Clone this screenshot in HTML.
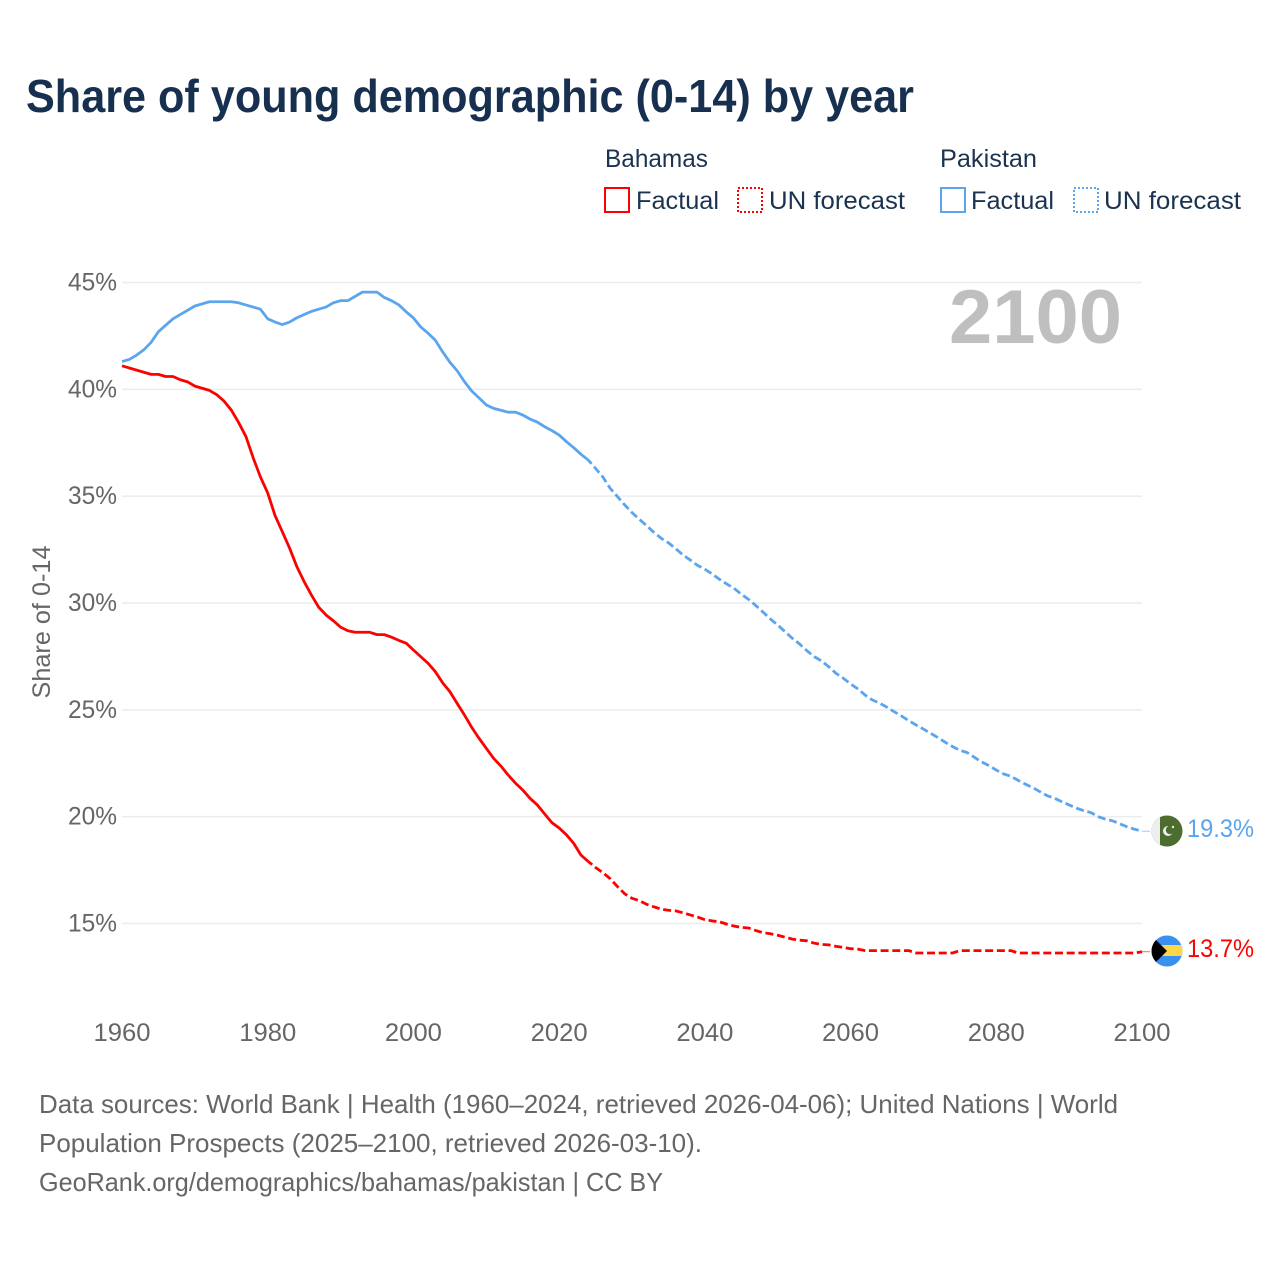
<!DOCTYPE html>
<html lang="en">
<head>
<meta charset="utf-8">
<title>Share of young demographic (0-14) by year</title>
<style>
html,body{margin:0;padding:0;background:#fff;width:1280px;height:1280px;overflow:hidden}
svg{display:block}
text{font-family:"Liberation Sans",sans-serif}
</style>
</head>
<body>
<svg id="chart" width="1280" height="1280" viewBox="0 0 1280 1280" xmlns="http://www.w3.org/2000/svg">
  <rect width="1280" height="1280" fill="#fff"/>
  <text x="26" y="112" font-size="46" font-weight="700" fill="#17304f" textLength="888" lengthAdjust="spacingAndGlyphs">Share of young demographic (0-14) by year</text>

  <g font-size="25" fill="#1b3350">
    <text x="605" y="167" textLength="103" lengthAdjust="spacingAndGlyphs">Bahamas</text>
    <text x="940" y="167" textLength="97" lengthAdjust="spacingAndGlyphs">Pakistan</text>
    <rect x="605" y="188" width="24" height="24" fill="none" stroke="#ff0000" stroke-width="2"/>
    <text x="636" y="209" textLength="83" lengthAdjust="spacingAndGlyphs">Factual</text>
    <rect x="738" y="188" width="24" height="24" fill="none" stroke="#ff0000" stroke-width="2" stroke-dasharray="2 2"/>
    <text x="769" y="209" textLength="136" lengthAdjust="spacingAndGlyphs">UN forecast</text>
    <rect x="941" y="188" width="24" height="24" fill="none" stroke="#5ba4ee" stroke-width="2"/>
    <text x="971" y="209" textLength="83" lengthAdjust="spacingAndGlyphs">Factual</text>
    <rect x="1074" y="188" width="24" height="24" fill="none" stroke="#5ba4ee" stroke-width="2" stroke-dasharray="2 2"/>
    <text x="1104" y="209" textLength="137" lengthAdjust="spacingAndGlyphs">UN forecast</text>
  </g>

  <g id="grid"></g>
  <g id="yticks"></g>
  <g id="xticks"></g>

  <text transform="translate(50,622) rotate(-90)" text-anchor="middle" font-size="25" fill="#666" textLength="153" lengthAdjust="spacingAndGlyphs">Share of 0-14</text>
  <text x="949" y="343" font-size="76" font-weight="700" fill="#bfbfbf" textLength="173" lengthAdjust="spacingAndGlyphs">2100</text>

  <g id="series"></g>

  <defs>
    <clipPath id="clip-pk"><circle cx="1167" cy="831" r="15.5"/></clipPath>
    <clipPath id="clip-bs"><circle cx="1167" cy="951" r="15.5"/></clipPath>
  </defs>
  <g clip-path="url(#clip-pk)">
    <rect x="1150" y="814" width="34" height="34" fill="#4c6d2d"/>
    <rect x="1150" y="814" width="10" height="34" fill="#eeeeee"/>
    <circle cx="1168" cy="831" r="5" fill="#eeeeee"/>
    <circle cx="1170" cy="830" r="4.2" fill="#4c6d2d"/>
    <circle cx="1173" cy="827" r="1.2" fill="#eeeeee"/>
  </g>
  <g clip-path="url(#clip-bs)">
    <rect x="1150" y="934" width="34" height="34" fill="#3a90ee"/>
    <rect x="1150" y="945" width="34" height="11" fill="#ffd64a"/>
    <polygon points="1150,934 1167,951 1150,968" fill="#000"/>
  </g>
  <text x="1187" y="837" font-size="25" fill="#5ba4ee" textLength="67" lengthAdjust="spacingAndGlyphs">19.3%</text>
  <text x="1187" y="957" font-size="25" fill="#ff0000" textLength="67" lengthAdjust="spacingAndGlyphs">13.7%</text>

  <g font-size="26" fill="#666">
    <text x="39" y="1113" textLength="1079" lengthAdjust="spacingAndGlyphs">Data sources: World Bank | Health (1960–2024, retrieved 2026-04-06); United Nations | World</text>
    <text x="39" y="1152" textLength="663" lengthAdjust="spacingAndGlyphs">Population Prospects (2025–2100, retrieved 2026-03-10).</text>
    <text x="39" y="1191" textLength="624" lengthAdjust="spacingAndGlyphs">GeoRank.org/demographics/bahamas/pakistan | CC BY</text>
  </g>
</svg>
<script>
const firstYear = 1960;
const lastFactualYear = 2024;
const xTickYears = [1960, 1980, 2000, 2020, 2040, 2060, 2080, 2100];
const yTickValues = [15, 20, 25, 30, 35, 40, 45];
const pakistanValues = [
  41.3,41.4,41.6,41.85,42.2,42.7,43.0,43.3,43.5,43.7,
  43.9,44.0,44.1,44.1,44.1,44.1,44.05,43.95,43.85,43.75,
  43.3,43.15,43.03,43.15,43.35,43.5,43.65,43.75,43.85,44.05,
  44.15,44.15,44.35,44.55,44.55,44.55,44.3,44.15,43.95,43.63,
  43.34,42.92,42.63,42.3,41.76,41.27,40.87,40.36,39.92,39.6,
  39.27,39.11,39.02,38.93,38.93,38.8,38.61,38.47,38.25,38.07,
  37.86,37.55,37.27,36.96,36.69,36.3,35.9,35.37,34.98,34.59,
  34.23,33.92,33.62,33.31,33.03,32.82,32.54,32.25,32.01,31.76,
  31.58,31.36,31.11,30.89,30.69,30.41,30.17,29.88,29.57,29.25,
  28.97,28.66,28.35,28.08,27.77,27.49,27.29,27.02,26.71,26.48,
  26.21,25.98,25.69,25.46,25.31,25.12,24.91,24.71,24.49,24.29,
  24.1,23.9,23.7,23.48,23.28,23.11,23.0,22.78,22.56,22.39,
  22.18,22.0,21.89,21.7,21.52,21.36,21.17,20.98,20.86,20.7,
  20.55,20.4,20.28,20.19,20.0,19.88,19.8,19.66,19.52,19.41,
  19.32
];
const bahamasValues = [
  41.1,41.0,40.9,40.8,40.7,40.7,40.6,40.6,40.45,40.35,
  40.15,40.05,39.95,39.75,39.45,39.03,38.45,37.8,36.8,35.9,
  35.15,34.1,33.34,32.57,31.7,31.0,30.37,29.8,29.44,29.17,
  28.87,28.7,28.63,28.63,28.63,28.52,28.52,28.4,28.25,28.12,
  27.8,27.49,27.18,26.79,26.27,25.85,25.3,24.76,24.18,23.67,
  23.2,22.73,22.37,21.95,21.57,21.25,20.86,20.55,20.13,19.72,
  19.47,19.15,18.75,18.2,17.9,17.62,17.38,17.1,16.73,16.39,
  16.18,16.07,15.9,15.78,15.67,15.62,15.59,15.5,15.4,15.3,
  15.18,15.12,15.08,14.97,14.88,14.82,14.79,14.67,14.57,14.52,
  14.45,14.36,14.27,14.22,14.19,14.08,14.02,14.0,13.93,13.88,
  13.82,13.8,13.73,13.73,13.73,13.73,13.73,13.73,13.73,13.62,
  13.62,13.62,13.62,13.62,13.62,13.73,13.73,13.73,13.73,13.73,
  13.73,13.73,13.73,13.62,13.62,13.62,13.62,13.62,13.62,13.62,
  13.62,13.62,13.62,13.62,13.62,13.62,13.62,13.62,13.62,13.62,
  13.68
];

const NS = 'http://www.w3.org/2000/svg';
const xScale = year => 122 + (year - 1960) * (1142 - 122) / 140;
const yScale = value => 282.5 + (45 - value) * (923.5 - 282.5) / 30;

function mk(tag, parent, attrs, text) {
  const el = document.createElementNS(NS, tag);
  for (const k in attrs) el.setAttribute(k, attrs[k]);
  if (text !== undefined) el.textContent = text;
  parent.appendChild(el);
  return el;
}

const grid = document.getElementById('grid');
const yticks = document.getElementById('yticks');
const xticks = document.getElementById('xticks');
const series = document.getElementById('series');

yTickValues.forEach(v => {
  const line = mk('line', grid, {x1: 122, x2: 1142, y1: yScale(v), y2: yScale(v), stroke: '#ececec', 'stroke-width': 1.5});
  
  
  const label = mk('text', yticks, {x: 68, y: yScale(v) + 8, 'font-size': 25, fill: '#666', textLength: 49, lengthAdjust: 'spacingAndGlyphs'}, v + '%');
  
  
});

xTickYears.forEach(year => {
  const label = mk('text', xticks, {x: xScale(year) - 28.5, y: 1041, 'font-size': 25, fill: '#666', textLength: 57, lengthAdjust: 'spacingAndGlyphs'}, String(year));
  
  
});

function pathFor(values, startYear, endYear) {
  const pts = [];
  for (let y = startYear; y <= endYear; y++) {
    pts.push(xScale(y).toFixed(2) + ',' + yScale(values[y - firstYear]).toFixed(2));
  }
  return 'M' + pts.join('L');
}

function drawSeries(values, color, key) {
  const end = firstYear + values.length - 1;
  const solid = mk('path', series, {d: pathFor(values, firstYear, lastFactualYear), fill: 'none', stroke: color, 'stroke-width': 2.8, 'stroke-linejoin': 'round'});
  
  
  const dashed = mk('path', series, {d: pathFor(values, lastFactualYear, end), fill: 'none', stroke: color, 'stroke-width': 2.8, 'stroke-dasharray': '8 3.7', 'stroke-dashoffset': 3, 'stroke-linejoin': 'round'});
  
  
  const endY = yScale(values[values.length - 1]);
  const leader = mk('line', series, {x1: xScale(end), x2: 1150, y1: endY, y2: endY, stroke: color, 'stroke-width': 1, opacity: 0.6});
  
  
}

drawSeries(pakistanValues, '#5ba4ee', 'pakistan');
drawSeries(bahamasValues, '#ff0000', 'bahamas');
</script>
</body>
</html>
